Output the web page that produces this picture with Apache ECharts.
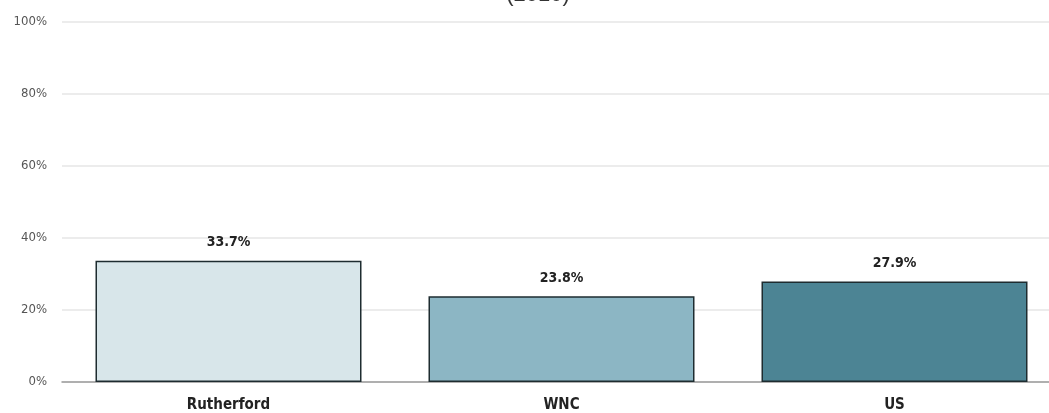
<!DOCTYPE html>
<html><head><meta charset="utf-8">
<script src="https://cdn.jsdelivr.net/npm/echarts@6/dist/echarts.min.js"></script>
<style>html,body{margin:0;padding:0;background:#fff}#c{width:1049px;height:413px}</style>
</head><body><div id="c"></div>
<script>
const categories = ['Rutherford', 'WNC', 'US'];
const values = [33.7, 23.8, 27.9];
const barColors = ['#d8e6ea', '#8cb6c4', '#4c8494'];
const titleText = '(2010)';
const F = '"DejaVu Sans Condensed", "Liberation Sans", sans-serif';
const chart = echarts.init(document.getElementById('c'));
chart.setOption({
  animation: false,
  title: { text: titleText, left: 533, top: -21, textAlign: 'center',
    textStyle: { fontFamily: 'Liberation Sans, Arial, sans-serif', fontSize: 22, fontWeight: 'normal', color: '#333' } },
  grid: { left: 62, width: 999, top: 22, bottom: 31, containLabel: false, outerBoundsMode: 'none' },
  xAxis: { type: 'category', data: categories,
    axisLine: { lineStyle: { color: '#9a9a9a', width: 1.5 } }, axisTick: { show: false },
    axisLabel: { fontFamily: F, fontWeight: 'bold', fontSize: 15, color: '#222', margin: 16 } },
  yAxis: { type: 'value', min: 0, max: 100, interval: 20,
    axisLabel: { formatter: '{value}%', fontFamily: F, fontSize: 13, color: '#555', margin: 15 },
    splitLine: { lineStyle: { color: '#e6e6e6', width: 1.5 } },
    axisLine: { show: false }, axisTick: { show: false } },
  series: [{ type: 'bar', barWidth: 266,
    data: values.map((v, i) => ({ value: v, itemStyle: { color: barColors[i] } })),
    itemStyle: { borderColor: '#1e2c30', borderWidth: 1.5 },
    label: { show: true, position: 'top', distance: 11, formatter: p => p.value.toFixed(1) + '%',
      fontFamily: F, fontWeight: 'bold', fontSize: 14, color: '#222' } }]
});
</script></body></html>
